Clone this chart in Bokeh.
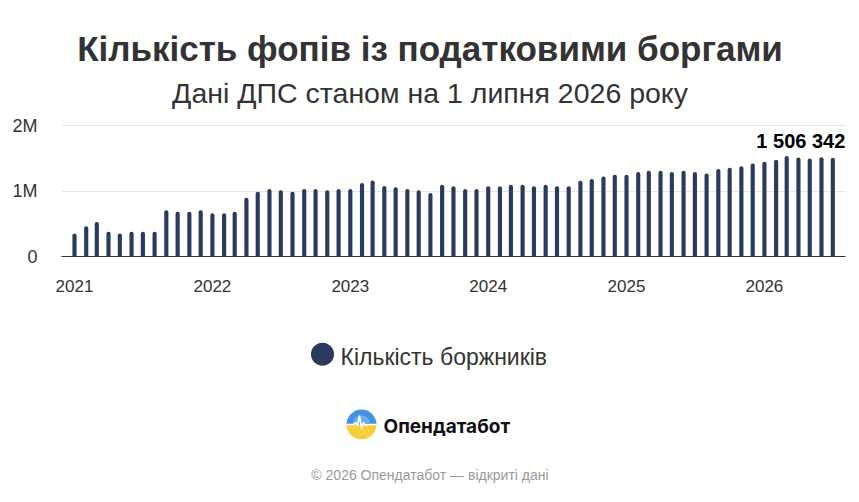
from math import pi
import pandas as pd
from bokeh.plotting import figure
from bokeh.models import ColumnDataSource, Range1d, FixedTicker, DatetimeTickFormatter, Label
from bokeh.layouts import column
from bokeh.embed import file_html
from bokeh.resources import INLINE
from bokeh.core.properties import value

# ---------------- data ----------------
title_text = "Кількість фопів із податковими боргами"
subtitle_text = "Дані ДПС станом на 1 липня 2026 року"
series_name = "Кількість боржників"
brand_text = "Опендатабот"
footer_text = "© 2026 Опендатабот — відкриті дані"

months = pd.date_range("2021-01-01", "2026-07-01", freq="MS")
debtors = [
    350000, 462000, 528000, 376000, 350000, 376000, 376000, 376000, 706000, 685000, 685000, 706000,
    660000, 660000, 685000, 898000, 990000, 1030000, 1010000, 990000, 1030000, 1030000, 1010000, 1030000,
    1030000, 1122000, 1162000, 1076000, 1056000, 1030000, 1010000, 970000, 1096000, 1071000, 1030000, 1030000,
    1071000, 1071000, 1096000, 1096000, 1071000, 1096000, 1071000, 1071000, 1157000, 1183000, 1223000, 1249000,
    1249000, 1289000, 1310000, 1310000, 1289000, 1310000, 1289000, 1269000, 1335000, 1355000, 1376000, 1421000,
    1448000, 1479000, 1535000, 1512000, 1497000, 1515000, 1506342,
]
year_ticks = [2021, 2022, 2023, 2024, 2025, 2026]
y_ticks = [0, 1000000, 2000000]
y_tick_labels = ["0", "1M", "2M"]

# ---------------- styles / layout ----------------
BAR = "#2b3b5d"
TXT = "#333333"
FONT = "Liberation Sans"
DAY = 86400000.0
W = 859
BL, BR = 61, 14          # frame left / right borders (shared by all panels)
FL, FR = BL, W - BR      # frame x extent in page pixels
H_TOP = 112
H_MID = 204
H_BOT = 502 - H_TOP - H_MID

def ms(ts):
    return pd.Timestamp(ts).timestamp() * 1000.0

def panel(h, top):
    f = figure(width=W, height=h, x_range=Range1d(FL, FR), y_range=Range1d(top + h, top),
               x_axis_location=None, y_axis_location=None,
               output_backend="svg", toolbar_location=None,
               min_border_left=BL, min_border_right=BR, min_border_top=0, min_border_bottom=0)
    f.title.visible = False
    f.outline_line_color = None
    f.grid.visible = False
    return f

# ---------------- header ----------------
t = panel(H_TOP, 0)
t.text([429.5], [48], text=[title_text], text_font=value(FONT), text_font_size="35px",
       text_font_style="bold", text_color=TXT, text_align="center", text_baseline="alphabetic")
t.text([429.5], [92.7], text=[subtitle_text], text_font=value(FONT), text_font_size="28.5px",
       text_color=TXT, text_align="center", text_baseline="alphabetic")

# ---------------- chart ----------------
x_start = ms(months[0]) - 34.4 * DAY
x_end = ms(months[-1]) + 33.6 * DAY
y_end = y_ticks[-1] * 132.0 / 131.0

src = ColumnDataSource(dict(x=list(months), top=debtors))

p = figure(width=W, height=H_MID, x_axis_type="datetime",
           x_range=Range1d(x_start, x_end), y_range=Range1d(0, y_end),
           output_backend="svg", toolbar_location=None,
           min_border_left=BL, min_border_right=BR, min_border_top=12, min_border_bottom=60)
p.title.visible = False
p.outline_line_color = None
p.xgrid.visible = False
p.ygrid.grid_line_color = "#e6e6e6"
p.ygrid.grid_line_width = 1

p.vbar(x="x", top="top", width=11 * DAY, source=src, fill_color=BAR, line_color=None,
       border_radius=(2, 2, 0, 0))

p.xaxis.ticker = FixedTicker(ticks=[ms(f"{y}-01-01") for y in year_ticks])
p.xaxis.formatter = DatetimeTickFormatter(years="%Y", months="%Y", days="%Y", hours="%Y",
                                          minutes="%Y", seconds="%Y", milliseconds="%Y")
p.xaxis.axis_line_color = "#333333"
p.xaxis.axis_line_width = 1
p.xaxis.major_tick_line_color = None
p.xaxis.minor_tick_line_color = None
p.xaxis.major_label_text_font = FONT
p.xaxis.major_label_text_font_size = "17px"
p.xaxis.major_label_text_color = TXT
p.xaxis.major_label_standoff = 17

p.yaxis.ticker = FixedTicker(ticks=y_ticks)
p.yaxis.major_label_overrides = {tk: lb for tk, lb in zip(y_ticks, y_tick_labels)}
p.yaxis.axis_line_color = None
p.yaxis.major_tick_line_color = None
p.yaxis.minor_tick_line_color = None
p.yaxis.major_label_text_font = FONT
p.yaxis.major_label_text_font_size = "18px"
p.yaxis.major_label_text_color = TXT
p.yaxis.major_label_standoff = 18

p.add_layout(Label(x=ms(months[-1]), y=debtors[-1], text=f"{debtors[-1]:,}".replace(",", " "),
                   text_align="right", text_baseline="alphabetic", x_offset=12.5, y_offset=17,
                   text_font=FONT, text_font_size="20px", text_font_style="bold", text_color="#000000"))

# ---------------- footer panel: legend, logo, copyright ----------------
q = panel(H_BOT, H_TOP + H_MID)

q.scatter([322], [353.7], size=23, marker="circle", fill_color=BAR, line_color=None)
q.text([340], [356.2], text=[series_name], text_font=value(FONT), text_font_size="23px",
       text_color=TXT, text_align="left", text_baseline="alphabetic")

q.wedge([361], [424], radius=15, start_angle=pi, end_angle=2 * pi, fill_color="#f6cf3c", line_color=None)
q.wedge([361], [424], radius=15, start_angle=0, end_angle=pi, fill_color="#4393e4", line_color=None)
q.wedge([361], [424], radius=9, start_angle=0.25, end_angle=pi - 0.25, fill_color="#8cc0f0",
        line_color=None, fill_alpha=0.6)
q.line([346, 353, 355, 357, 359, 361, 363, 365, 367, 376],
       [424, 424, 422, 425, 415, 428, 422, 425, 424, 424], line_color="white", line_width=1.6)
q.text([383], [425.5], text=[brand_text], text_font=value("Inter"), text_font_size="19px",
       text_font_style="bold", text_color="#111111", text_align="left", text_baseline="alphabetic")

q.text([429.5], [474], text=[footer_text], text_font=value(FONT), text_font_size="14px",
       text_color="#999999", text_align="center", text_baseline="alphabetic")

layout = column(t, p, q, spacing=0)
open("out.html", "w").write(file_html(layout, INLINE))
